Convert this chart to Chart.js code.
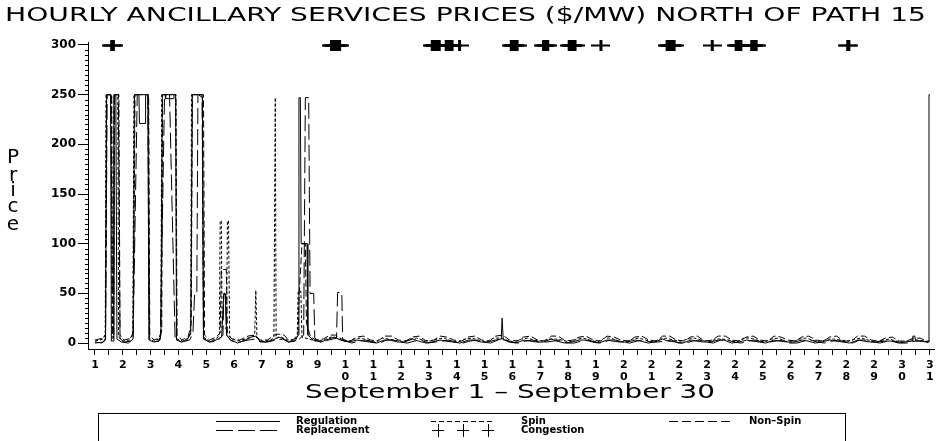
<!DOCTYPE html>
<html>
<head>
<meta charset="utf-8">
<script src="https://cdn.jsdelivr.net/npm/chart.js@4.4.1/dist/chart.umd.min.js"></script>
<style>
  html, body { margin: 0; padding: 0; background: #fff; }
  canvas { display: block; }
</style>
</head>
<body>
<canvas id="chart" width="940" height="441"></canvas>
<script>
// hourly prices, [day + hour/24, $/MW]
var regulation = [
  [1.00, 1], [1.25, 0], [1.38, 3], [1.42, 250], [1.56, 250], [1.59, 2], [1.66, 2], [1.68, 250], [1.75, 250], [1.79, 4], [1.95, 1],
  [2.2, 0], [2.37, 4], [2.42, 250], [2.58, 250], [2.6, 221], [2.8, 221], [2.82, 250], [2.9, 250], [2.94, 3],
  [3.12, 1], [3.3, 2], [3.37, 8], [3.42, 250], [3.52, 250], [3.54, 246], [3.82, 246], [3.84, 250], [3.9, 250], [3.93, 3],
  [4.12, 1], [4.3, 3], [4.44, 9], [4.5, 250], [4.72, 250], [4.86, 247], [4.9, 4],
  [5.12, 1], [5.35, 3], [5.55, 6], [5.63, 50], [5.68, 50], [5.73, 8], [5.88, 3],
  [6.12, 0], [6.4, 3], [6.62, 6], [6.8, 7], [6.92, 2],
  [7.12, 1], [7.4, 3], [7.6, 6], [7.8, 4], [7.95, 1],
  [8.2, 2], [8.3, 8], [8.33, 247], [8.38, 247], [8.41, 100], [8.62, 100], [8.65, 8], [8.85, 3],
  [9.12, 1], [9.4, 4], [9.6, 6], [9.82, 3],
  [10.12, 1], [10.42, 3], [10.62, 2], [10.88, 1],
  [11.12, 0], [11.4, 3], [11.6, 3], [11.88, 1],
  [12.1, 1], [12.42, 4], [12.62, 2], [12.9, 0],
  [13.1, 1], [13.4, 3], [13.6, 2], [13.86, 1],
  [14.12, 0], [14.42, 3], [14.6, 3], [14.88, 1],
  [15.1, 1], [15.4, 3], [15.6, 4], [15.63, 25], [15.67, 4], [15.88, 1],
  [16.12, 0], [16.42, 3], [16.62, 2], [16.88, 1],
  [17.1, 1], [17.4, 4], [17.6, 2], [17.88, 0],
  [18.12, 1], [18.42, 3], [18.62, 3], [18.88, 1],
  [19.1, 0], [19.4, 3], [19.6, 2], [19.86, 1],
  [20.12, 1], [20.42, 3], [20.62, 2], [20.88, 0],
  [21.1, 1], [21.4, 4], [21.6, 2], [21.88, 1],
  [22.12, 0], [22.42, 3], [22.62, 2], [22.88, 1],
  [23.1, 1], [23.4, 3], [23.6, 3], [23.88, 0],
  [24.12, 1], [24.42, 3], [24.62, 2], [24.88, 1],
  [25.1, 0], [25.4, 3], [25.6, 2], [25.86, 1],
  [26.12, 1], [26.42, 3], [26.62, 2], [26.88, 0],
  [27.1, 1], [27.4, 3], [27.6, 2], [27.88, 1],
  [28.12, 0], [28.42, 3], [28.62, 2], [28.88, 1],
  [29.1, 1], [29.4, 2], [29.6, 2], [29.88, 0],
  [30.12, 1], [30.36, 2], [30.39, 7], [30.46, 7], [30.49, 2], [30.75, 2], [30.95, 1], [30.97, 250], [31.0, 250]
];

var spin = [
  [1.00, 2], [1.3, 4], [1.37, 10], [1.4, 250], [1.6, 250], [1.62, 4], [1.67, 4], [1.69, 250], [1.82, 250], [1.85, 6], [2.0, 2],
  [2.25, 3], [2.36, 10], [2.4, 250], [2.92, 250], [2.96, 5], [3.1, 2],
  [3.3, 4], [3.37, 10], [3.4, 250], [3.9, 250], [3.94, 4], [4.15, 2],
  [4.35, 5], [4.44, 12], [4.47, 250], [4.86, 250], [4.9, 6], [5.1, 2],
  [5.35, 4], [5.47, 8], [5.5, 123], [5.54, 123], [5.57, 15], [5.73, 15], [5.76, 123], [5.8, 123], [5.84, 6], [6.1, 2],
  [6.4, 4], [6.6, 6], [6.74, 8], [6.78, 53], [6.82, 6], [7.0, 2],
  [7.3, 3], [7.43, 5], [7.48, 247], [7.51, 5], [7.7, 6], [7.9, 3],
  [8.1, 2], [8.27, 8], [8.3, 52], [8.4, 52], [8.44, 6], [8.7, 4], [8.9, 2],
  [9.2, 3], [9.5, 6], [9.7, 5], [9.95, 2],
  [10.05, 1], [10.32, 4], [10.55, 5], [10.78, 3],
  [11.05, 1], [11.32, 5], [11.55, 4], [11.78, 3],
  [12.05, 1], [12.32, 4], [12.55, 5], [12.78, 3],
  [13.05, 2], [13.32, 4], [13.55, 5], [13.78, 2],
  [14.05, 1], [14.32, 4], [14.55, 5], [14.78, 3],
  [15.05, 1], [15.32, 5], [15.55, 5], [15.78, 3],
  [16.05, 1], [16.32, 4], [16.55, 5], [16.78, 3],
  [17.05, 2], [17.32, 4], [17.55, 4], [17.78, 3],
  [18.05, 1], [18.32, 4], [18.55, 5], [18.78, 3],
  [19.05, 1], [19.32, 5], [19.55, 5], [19.78, 2],
  [20.05, 1], [20.32, 4], [20.55, 5], [20.78, 3],
  [21.05, 1], [21.32, 4], [21.55, 5], [21.78, 3],
  [22.05, 2], [22.32, 4], [22.55, 5], [22.78, 3],
  [23.05, 1], [23.32, 4], [23.55, 4], [23.78, 3],
  [24.05, 1], [24.32, 5], [24.55, 5], [24.78, 3],
  [25.05, 1], [25.32, 4], [25.55, 5], [25.78, 2],
  [26.05, 1], [26.32, 4], [26.55, 5], [26.78, 3],
  [27.05, 1], [27.32, 4], [27.55, 4], [27.78, 3],
  [28.05, 2], [28.32, 4], [28.55, 5], [28.78, 3],
  [29.05, 1], [29.32, 3], [29.55, 4], [29.78, 2],
  [30.05, 1], [30.32, 3], [30.55, 3], [30.78, 2], [31.0, 1]
];

var nonSpin = [
  [1.00, 3], [1.3, 5], [1.38, 8], [1.41, 250], [1.6, 250], [1.63, 8], [1.68, 8], [1.7, 250], [1.86, 250], [1.9, 8], [2.05, 3],
  [2.3, 5], [2.38, 12], [2.44, 250], [2.93, 250], [2.97, 8], [3.12, 3],
  [3.3, 5], [3.4, 12], [3.43, 250], [3.91, 250], [3.95, 8], [4.12, 3],
  [4.35, 6], [4.46, 20], [4.5, 250], [4.9, 250], [4.94, 8], [5.12, 3],
  [5.35, 6], [5.5, 10], [5.54, 74], [5.72, 74], [5.76, 10], [5.92, 4],
  [6.2, 3], [6.5, 7], [6.7, 8], [6.92, 3],
  [7.2, 3], [7.45, 8], [7.6, 9], [7.8, 8], [7.95, 3],
  [8.2, 4], [8.3, 10], [8.34, 50], [8.44, 100], [8.56, 100], [8.6, 20], [8.75, 6], [8.95, 3],
  [9.2, 4], [9.45, 8], [9.65, 8], [9.92, 3],
  [10.18, 2], [10.4, 6], [10.65, 7], [10.9, 3],
  [11.18, 2], [11.4, 7], [11.65, 7], [11.9, 3],
  [12.18, 2], [12.4, 6], [12.65, 7], [12.9, 2],
  [13.18, 3], [13.4, 7], [13.65, 6], [13.9, 3],
  [14.18, 2], [14.4, 6], [14.65, 7], [14.9, 3],
  [15.18, 2], [15.4, 7], [15.65, 8], [15.9, 3],
  [16.18, 2], [16.4, 6], [16.65, 7], [16.9, 3],
  [17.18, 2], [17.4, 7], [17.65, 7], [17.9, 2],
  [18.18, 3], [18.4, 6], [18.65, 7], [18.9, 3],
  [19.18, 2], [19.4, 7], [19.65, 6], [19.9, 3],
  [20.18, 2], [20.4, 6], [20.65, 7], [20.9, 3],
  [21.18, 2], [21.4, 7], [21.65, 7], [21.9, 3],
  [22.18, 2], [22.4, 6], [22.65, 7], [22.9, 2],
  [23.18, 3], [23.4, 7], [23.65, 7], [23.9, 3],
  [24.18, 2], [24.4, 6], [24.65, 7], [24.9, 3],
  [25.18, 2], [25.4, 7], [25.65, 6], [25.9, 3],
  [26.18, 2], [26.4, 6], [26.65, 7], [26.9, 3],
  [27.18, 2], [27.4, 6], [27.65, 7], [27.9, 2],
  [28.18, 2], [28.4, 7], [28.65, 7], [28.9, 3],
  [29.18, 2], [29.4, 5], [29.65, 6], [29.9, 2],
  [30.18, 2], [30.4, 5], [30.65, 5], [30.9, 2], [31.0, 2]
];

var replacement = [
  [1.00, 0], [1.3, 1], [1.38, 5], [1.44, 250], [1.58, 250], [1.62, 50], [1.67, 50], [1.7, 250], [1.84, 250], [1.9, 5], [2.02, 1],
  [2.3, 2], [2.37, 5], [2.52, 250], [2.9, 250], [2.95, 4], [3.1, 1],
  [3.3, 2], [3.35, 4], [3.5, 250], [3.68, 250], [3.88, 4], [4.1, 1],
  [4.4, 3], [4.52, 10], [4.58, 49], [4.66, 49], [4.7, 250], [4.85, 250], [4.9, 5], [5.1, 1],
  [5.4, 2], [5.6, 8], [5.63, 49], [5.7, 49], [5.73, 8], [5.9, 2],
  [6.2, 1], [6.5, 3], [6.75, 4], [6.95, 1],
  [7.2, 1], [7.5, 3], [7.75, 4], [7.95, 1],
  [8.3, 3], [8.5, 8], [8.56, 247], [8.68, 247], [8.73, 50], [8.86, 50], [8.9, 5], [9.1, 1],
  [9.4, 3], [9.68, 5], [9.72, 51], [9.87, 51], [9.9, 4],
  [10.22, 0], [10.48, 2], [10.72, 3], [10.96, 1],
  [11.22, 0], [11.48, 3], [11.72, 3], [11.96, 1],
  [12.22, 0], [12.48, 2], [12.72, 3], [12.96, 0],
  [13.22, 1], [13.48, 2], [13.72, 3], [13.96, 1],
  [14.22, 0], [14.48, 2], [14.72, 3], [14.96, 1],
  [15.22, 0], [15.48, 3], [15.72, 3], [15.96, 1],
  [16.22, 0], [16.48, 2], [16.72, 3], [16.96, 1],
  [17.22, 1], [17.48, 2], [17.72, 3], [17.96, 0],
  [18.22, 0], [18.48, 2], [18.72, 3], [18.96, 1],
  [19.22, 0], [19.48, 3], [19.72, 3], [19.96, 1],
  [20.22, 0], [20.48, 2], [20.72, 3], [20.96, 1],
  [21.22, 1], [21.48, 2], [21.72, 3], [21.96, 0],
  [22.22, 0], [22.48, 2], [22.72, 3], [22.96, 1],
  [23.22, 0], [23.48, 3], [23.72, 3], [23.96, 1],
  [24.22, 0], [24.48, 2], [24.72, 3], [24.96, 1],
  [25.22, 1], [25.48, 2], [25.72, 3], [25.96, 0],
  [26.22, 0], [26.48, 2], [26.72, 3], [26.96, 1],
  [27.22, 0], [27.48, 2], [27.72, 3], [27.96, 1],
  [28.22, 0], [28.48, 3], [28.72, 3], [28.96, 1],
  [29.22, 0], [29.48, 2], [29.72, 2], [29.96, 0],
  [30.22, 0], [30.48, 2], [30.72, 2], [31.0, 0]
];

// hours with path 15 congestion (marked along the top at 300)
var congestionHours = [
  1.6, 1.63, 1.66,
  9.5, 9.54, 9.58, 9.62, 9.67, 9.71, 9.75, 9.79,
  13.12, 13.17, 13.21, 13.25, 13.29, 13.33, 13.37,
  13.62, 13.67, 13.71, 13.75, 13.79, 13.83,
  14.1,
  15.96, 16.0, 16.04, 16.08, 16.12, 16.17,
  17.12, 17.17, 17.22, 17.27,
  18.04, 18.08, 18.12, 18.17, 18.21, 18.25,
  19.18,
  21.56, 21.6, 21.65, 21.69, 21.73, 21.77, 21.81,
  23.18,
  24.04, 24.08, 24.12, 24.17, 24.21,
  24.6, 24.64, 24.68, 24.72, 24.76,
  28.05, 28.09
];
var congestionLevel = 299;

var dayTicks = [];
for (var d = 1; d <= 31; d += 0.5) dayTicks.push(d);
var priceTicks = [];
for (var p = 0; p <= 300; p += 5) priceTicks.push(p);

var FONT = '"DejaVu Sans", sans-serif';

function toPoints(arr) {
  return arr.map(function (r) { return { x: r[0], y: r[1] }; });
}

// the "+" marker, wider than tall as in the original
var plusImg = document.createElement('canvas');
plusImg.width = 19; plusImg.height = 11;
(function () {
  var c = plusImg.getContext('2d');
  c.fillStyle = '#000';
  c.fillRect(0, 4, 19, 2);
  c.fillRect(8, 0, 3, 11);
})();

function stretchText(ctx, text, x, y, width) {
  var w = ctx.measureText(text).width;
  ctx.save();
  ctx.translate(x, y);
  ctx.scale(width / w, 1);
  ctx.fillText(text, 0, 0);
  ctx.restore();
}

var decor = {
  id: 'decor',
  afterDraw: function (chart) {
    var ctx = chart.ctx;
    var ys = chart.scales.y;
    ctx.save();
    ctx.fillStyle = '#000';
    ctx.strokeStyle = '#000';

    // minor ticks on price axis
    ctx.lineWidth = 1;
    ctx.beginPath();
    priceTicks.forEach(function (v) {
      if (v % 50 === 0) return;
      var py = Math.round(ys.getPixelForValue(v)) + 0.5;
      ctx.moveTo(chart.chartArea.left - 3, py);
      ctx.lineTo(chart.chartArea.left, py);
    });
    ctx.stroke();

    // title
    ctx.textBaseline = 'alphabetic';
    ctx.textAlign = 'left';
    ctx.font = '19px ' + FONT;
    stretchText(ctx, 'HOURLY ANCILLARY SERVICES PRICES ($/MW) NORTH OF PATH 15', 5, 21, 921);

    // x title
    ctx.font = '20px ' + FONT;
    stretchText(ctx, 'September 1 \u2013 September 30', 305, 398, 410);

    // y title, stacked letters
    ctx.font = '20px ' + FONT;
    ctx.textAlign = 'center';
    ctx.textBaseline = 'middle';
    var letters = ['P', 'r', 'i', 'c', 'e'];
    var ly = [158, 176, 191, 207, 225];
    letters.forEach(function (ch, i) { ctx.fillText(ch, 13, ly[i]); });

    // legend
    ctx.lineWidth = 1;
    ctx.strokeRect(98.5, 413.5, 747, 40);
    function sample(x1, x2, y, dash) {
      ctx.save();
      ctx.setLineDash(dash);
      ctx.beginPath();
      ctx.moveTo(x1, y); ctx.lineTo(x2, y);
      ctx.stroke();
      ctx.restore();
    }
    sample(216, 280, 421.5, []);
    sample(216, 280, 430.5, [17, 5]);
    sample(431, 495, 421.5, [5, 3]);
    sample(669, 731, 421.5, [9, 4]);
    ctx.beginPath();
    [438, 463, 488].forEach(function (cx) {
      ctx.moveTo(cx - 6, 430.5); ctx.lineTo(cx + 6, 430.5);
      ctx.moveTo(cx + 0.5, 424); ctx.lineTo(cx + 0.5, 437);
    });
    ctx.stroke();

    ctx.font = 'bold 10px ' + FONT;
    ctx.textAlign = 'left';
    ctx.textBaseline = 'middle';
    ctx.fillText('Regulation', 296, 421);
    ctx.fillText('Replacement', 296, 430);
    ctx.fillText('Spin', 521, 421);
    ctx.fillText('Congestion', 521, 430);
    ctx.fillText('Non\u2013Spin', 749, 421);
    ctx.restore();
  }
};

function lineSet(label, arr, dash) {
  return {
    label: label,
    data: toPoints(arr),
    borderColor: '#000',
    borderWidth: 1,
    borderDash: dash,
    pointRadius: 0,
    tension: 0,
    fill: false
  };
}

new Chart(document.getElementById('chart'), {
  type: 'line',
  data: {
    datasets: [
      lineSet('Replacement', replacement, [16, 5]),
      lineSet('Non-Spin', nonSpin, [7, 3]),
      lineSet('Spin', spin, [3, 2]),
      lineSet('Regulation', regulation, []),
      {
        label: 'Congestion',
        data: congestionHours.map(function (h) { return { x: h, y: congestionLevel }; }),
        showLine: false,
        pointStyle: plusImg,
        pointRadius: 5,
        clip: false
      }
    ]
  },
  options: {
    responsive: false,
    animation: false,
    devicePixelRatio: 1,
    layout: { padding: { top: 42, right: 5, left: 0, bottom: 0 } },
    plugins: {
      legend: { display: false },
      title: { display: false },
      tooltip: { enabled: false }
    },
    scales: {
      x: {
        type: 'linear',
        min: 0.75,
        max: 31.15,
        afterBuildTicks: function (s) { s.ticks = dayTicks.map(function (v) { return { value: v }; }); },
        afterFit: function (s) { s.height = 92; },
        grid: { drawOnChartArea: false, tickLength: 6, color: '#000' },
        border: { color: '#000', width: 1 },
        ticks: {
          autoSkip: false,
          maxRotation: 0,
          padding: 4,
          color: '#000',
          font: { family: FONT, weight: 'bold', size: 11, lineHeight: 1.1 },
          callback: function (v) {
            if (v % 1 !== 0) return '';
            var s = String(v);
            return s.length > 1 ? s.split('') : s;
          }
        }
      },
      y: {
        min: -6,
        max: 303,
        afterBuildTicks: function (s) { s.ticks = priceTicks.map(function (v) { return { value: v }; }); },
        afterFit: function (s) { s.width = 88; },
        grid: {
          drawOnChartArea: false,
          tickLength: 10,
          color: '#000',
          tickColor: function (c) { return c.tick && c.tick.value % 50 === 0 ? '#000' : 'rgba(0,0,0,0)'; }
        },
        border: { color: '#000', width: 1 },
        ticks: {
          autoSkip: false,
          padding: 2,
          color: '#000',
          font: { family: FONT, weight: 'bold', size: 12 },
          callback: function (v) { return v % 50 === 0 ? String(v) : ''; }
        }
      }
    }
  },
  plugins: [decor]
});
</script>
</body>
</html>
